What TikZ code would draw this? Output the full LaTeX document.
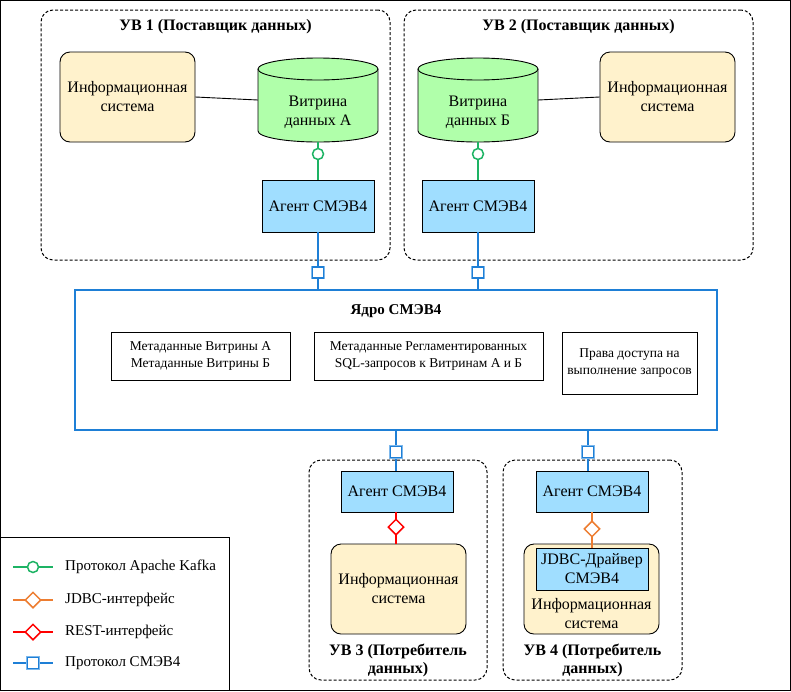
\documentclass[tikz,border=0pt]{standalone}
\usepackage{fontspec}
\setmainfont{Liberation Serif}
\usetikzlibrary{shapes.geometric,calc}
\definecolor{isfill}{HTML}{FFF2CC}
\definecolor{agfill}{HTML}{A0DEFF}
\definecolor{cylfill}{HTML}{B0FFAA}
\definecolor{kafkac}{HTML}{1DB364}
\definecolor{jdbcc}{HTML}{ED7D31}
\definecolor{restc}{HTML}{FF0000}
\definecolor{smevc}{HTML}{1E7FD6}
\definecolor{smevl}{HTML}{7DB8EC}
\begin{document}
\begin{tikzpicture}[x=1pt,y=-1pt,
  maintxt/.style={font=\fontsize{16}{19}\selectfont},
  smalltxt/.style={font=\fontsize{13.5}{17}\selectfont},
  legtxt/.style={font=\fontsize{15}{17}\selectfont},
  titletxt/.style={font=\bfseries\fontsize{16}{18}\selectfont},
  grp/.style={draw=black, dash pattern=on 3pt off 2pt, line width=1pt, rounded corners=12pt, inner sep=0pt},
  isbox/.style={draw=black, line width=0.9pt, fill=isfill, rounded corners=10pt, inner sep=0pt, align=center, maintxt},
  agbox/.style={draw=black, line width=0.9pt, fill=agfill, inner sep=0pt, align=center, maintxt},
  mbox/.style={draw=black, line width=0.9pt, fill=white, inner sep=0pt, align=center, smalltxt},
  kline/.style={draw=kafkac, line width=1.8pt},
  jline/.style={draw=jdbcc, line width=1.8pt},
  rline/.style={draw=restc, line width=1.8pt},
  sline/.style={draw=smevc, line width=1.8pt},
  kmark/.style={circle, draw=kafkac, line width=1.5pt, fill=white, minimum size=11pt, inner sep=0pt},
  jmark/.style={diamond, draw=jdbcc, line width=1.5pt, fill=white, minimum width=16pt, minimum height=16pt, inner sep=0pt},
  rmark/.style={diamond, draw=restc, line width=1.5pt, fill=white, minimum width=16pt, minimum height=16pt, inner sep=0pt},
  smark/.style={rectangle, draw=smevc, line width=1.2pt, fill=white, minimum size=11pt, inner sep=0pt, preaction={draw=smevl, line width=2.8pt}},
]
\useasboundingbox (0,0) rectangle (791,691);
\draw[line width=1pt] (0.5,0.5) rectangle (790.5,690.5);

% ---- groups
\node[grp, minimum width=349pt, minimum height=250pt] (uv1) at (215.5,135) {};
\node[titletxt] (uv1t) at (215.5,27) {УВ 1 (Поставщик данных)};
\node[grp, minimum width=349pt, minimum height=250pt] (uv2) at (578.5,135) {};
\node[titletxt] (uv2t) at (578.5,27) {УВ 2 (Поставщик данных)};
\node[grp, minimum width=178pt, minimum height=220pt] (uv3) at (398,570) {};
\node[titletxt, align=center] (uv3t) at (398,660) {УВ 3 (Потребитель\\данных)};
\node[grp, minimum width=179pt, minimum height=220pt] (uv4) at (592.5,570) {};
\node[titletxt, align=center] (uv4t) at (592.5,660) {УВ 4 (Потребитель\\данных)};

% ---- cylinders
\foreach \cx/\nm in {318/A,478/B}{
  \fill[cylfill] (\cx-60,69) rectangle (\cx+60,131);
  \fill[cylfill] (\cx,131) ellipse[x radius=60pt, y radius=11pt];
  \draw[line width=0.9pt] (\cx-60,69) -- (\cx-60,131) arc[start angle=180, end angle=360, x radius=60pt, y radius=11pt] -- (\cx+60,69);
  \draw[line width=0.9pt, fill=cylfill] (\cx,69) ellipse[x radius=60pt, y radius=11pt];
}
\node[inner sep=0pt, minimum width=120pt, minimum height=84pt] (cylA) at (318,100) {};
\node[maintxt, align=center] (cylAt) at (318,112) {Витрина\\данных А};
\node[inner sep=0pt, minimum width=120pt, minimum height=84pt] (cylB) at (478,100) {};
\node[maintxt, align=center] (cylBt) at (478,112) {Витрина\\данных Б};

% ---- information systems
\node[isbox, minimum width=135pt, minimum height=90pt] (is1) at (127.5,97) {Информационная\\система};
\node[isbox, minimum width=135pt, minimum height=90pt] (is2) at (667.5,97) {Информационная\\система};
\node[isbox, minimum width=135pt, minimum height=90pt] (is3) at (398.5,589) {Информационная\\система};
\node[isbox, minimum width=135pt, minimum height=90pt] (is4) at (591.5,589) {};
\node[maintxt, align=center] (is4t) at (591.5,614) {Информационная\\система};

% ---- agents
\node[agbox, minimum width=112pt, minimum height=52pt] (ag1) at (318,206) {Агент СМЭВ4};
\node[agbox, minimum width=112pt, minimum height=52pt] (ag2) at (478,206) {Агент СМЭВ4};
\node[agbox, minimum width=112pt, minimum height=41pt] (ag3) at (397,491.5) {Агент СМЭВ4};
\node[agbox, minimum width=112pt, minimum height=41pt] (ag4) at (592,491.5) {Агент СМЭВ4};
\node[agbox, minimum width=112pt, minimum height=42pt] (jdbc) at (592,569) {JDBC-Драйвер\\СМЭВ4};

% ---- core
\node[draw=smevc, line width=1.8pt, inner sep=0pt, minimum width=642pt, minimum height=140pt] (core) at (396,360) {};
\node[font=\bfseries\fontsize{15}{18}\selectfont] (coret) at (396,311) {Ядро СМЭВ4};
\node[mbox, minimum width=179pt, minimum height=48pt] (m1) at (200.5,356) {Метаданные Витрины А\\Метаданные Витрины Б};
\node[mbox, minimum width=229pt, minimum height=48pt] (m2) at (428.5,356) {Метаданные Регламентированных\\SQL-запросов к Витринам А и Б};
\node[mbox, minimum width=135pt, minimum height=62pt] (m3) at (629.5,363) {Права доступа на\\выполнение запросов};

% ---- connectors
\draw[line width=0.9pt] (is1.east) -- (cylA.west);
\draw[line width=0.9pt] (cylB.east) -- (is2.west);
\draw[kline] (cylA.south) -- node[kmark, pos=0.316] (ka) {} (ag1.north);
\draw[kline] (cylB.south) -- node[kmark, pos=0.316] (kb) {} (ag2.north);
\draw[sline] (ag1.south) -- node[smark, pos=0.707] (s1) {} (ag1.south |- core.north);
\draw[sline] (ag2.south) -- node[smark, pos=0.707] (s2) {} (ag2.south |- core.north);
\coordinate (c3) at (396,430);
\coordinate (c4) at (588,430);
\draw[sline] (c3) -- node[smark, pos=0.54] (s3) {} (c3 |- ag3.north);
\draw[sline] (c4) -- node[smark, pos=0.54] (s4) {} (c4 |- ag4.north);
\draw[rline] (c3 |- ag3.south) -- node[rmark, pos=0.47] (r3) {} (c3 |- is3.north);
\draw[jline] (ag4.south) -- node[jmark, pos=0.47] (j4) {} (jdbc.north);

% ---- legend
\node[draw=black, line width=0.9pt, inner sep=0pt, minimum width=229pt, minimum height=153pt] (leg) at (114.5,613.5) {};
\coordinate (l1a) at (13,567); \coordinate (l1b) at (53,567);
\coordinate (l2a) at (13,600); \coordinate (l2b) at (53,600);
\coordinate (l3a) at (13,632); \coordinate (l3b) at (53,632);
\coordinate (l4a) at (13,663); \coordinate (l4b) at (53,663);
\draw[kline] (l1a) -- node[kmark] (lk) {} (l1b);
\draw[jline] (l2a) -- node[jmark] (lj) {} (l2b);
\draw[rline] (l3a) -- node[rmark] (lr) {} (l3b);
\draw[sline] (l4a) -- node[smark] (ls) {} (l4b);
\node[legtxt, anchor=west, inner sep=0pt] (lt1) at (65,567) {Протокол Apache Kafka};
\node[legtxt, anchor=west, inner sep=0pt] (lt2) at (65,600) {JDBC-интерфейс};
\node[legtxt, anchor=west, inner sep=0pt] (lt3) at (65,632) {REST-интерфейс};
\node[legtxt, anchor=west, inner sep=0pt] (lt4) at (65,663) {Протокол СМЭВ4};
\end{tikzpicture}
\end{document}
